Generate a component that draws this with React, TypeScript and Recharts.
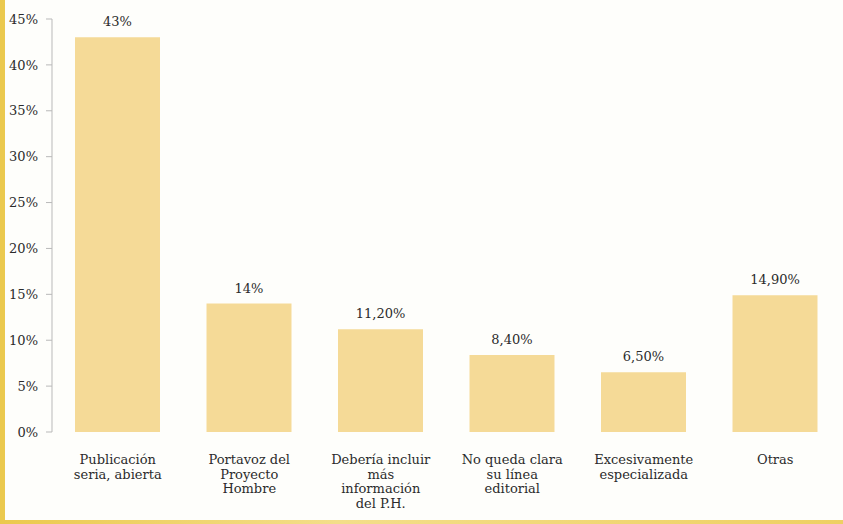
import { Bar, BarChart, LabelList, XAxis, YAxis } from "recharts";

// categorías (líneas del rótulo del eje X)
const CATEGORIES: string[][] = [
  ["Publicación", "seria, abierta"],
  ["Portavoz del", "Proyecto", "Hombre"],
  ["Debería incluir", "más", "información", "del P.H."],
  ["No queda clara", "su línea", "editorial"],
  ["Excesivamente", "especializada"],
  ["Otras"],
];
const VALUES = [43, 14, 11.2, 8.4, 6.5, 14.9];
const VALUE_LABELS = ["43%", "14%", "11,20%", "8,40%", "6,50%", "14,90%"];
const Y_TICKS = [0, 5, 10, 15, 20, 25, 30, 35, 40, 45];
const BOUNDARY_TICKS = [0, 1, 2, 3, 4, 5, 6];

const FONT = "DejaVu Serif";
const TEXT = "#2b2b2b";
const BAR = "#F5DA97";
const AXIS = "#b9b9b9";

const data = CATEGORIES.map((lines, i) => ({
  name: lines.join(" "),
  value: VALUES[i],
  label: VALUE_LABELS[i],
}));

function CategoryTick(props: any) {
  const { x, y, index } = props;
  const lines = CATEGORIES[index] ?? [];
  return (
    <text x={x} y={y} textAnchor="middle" fill={TEXT} fontSize={13} fontFamily={FONT}>
      {lines.map((l, i) => (
        <tspan key={i} x={x} dy={i === 0 ? 24 : 14.5}>
          {l}
        </tspan>
      ))}
    </text>
  );
}

export default function App() {
  return (
    <div
      style={{
        position: "relative",
        width: 843,
        height: 524,
        background: "#FEFEFB",
        overflow: "hidden",
      }}
    >
      <style>{"body{margin:0}"}</style>
      {/* borde amarillo del escaneo */}
      <div style={{ position: "absolute", left: 0, top: 0, width: 5, height: 524, background: "#EBC94E" }} />
      <div
        style={{
          position: "absolute",
          left: 0,
          bottom: 0,
          width: 843,
          height: 4,
          background: "linear-gradient(to right, #EBC94E, #F3DE8A 40%, #EED063)",
        }}
      />
      <BarChart
        width={843}
        height={524}
        data={data}
        margin={{ top: 19, right: 2, bottom: 0, left: 0 }}
        barSize={85}
      >
        <XAxis
          xAxisId="grid"
          type="number"
          domain={[0, 6]}
          ticks={BOUNDARY_TICKS}
          height={0}
          stroke={AXIS}
          tickSize={5}
          tick={() => null}
        />
        <XAxis
          dataKey="name"
          height={92}
          axisLine={false}
          tickLine={false}
          interval={0}
          tick={<CategoryTick />}
        />
        <YAxis
          domain={[0, 45]}
          ticks={Y_TICKS}
          width={52}
          stroke={AXIS}
          tickSize={6}
          tickMargin={8}
          tickFormatter={(v: number) => `${v}%`}
          tick={{ fontSize: 13, fill: TEXT, fontFamily: FONT }}
        />
        <Bar dataKey="value" fill={BAR} isAnimationActive={false}>
          <LabelList
            dataKey="label"
            position="top"
            offset={11}
            fill={TEXT}
            fontSize={13}
            fontFamily={FONT}
          />
        </Bar>
      </BarChart>
    </div>
  );
}
